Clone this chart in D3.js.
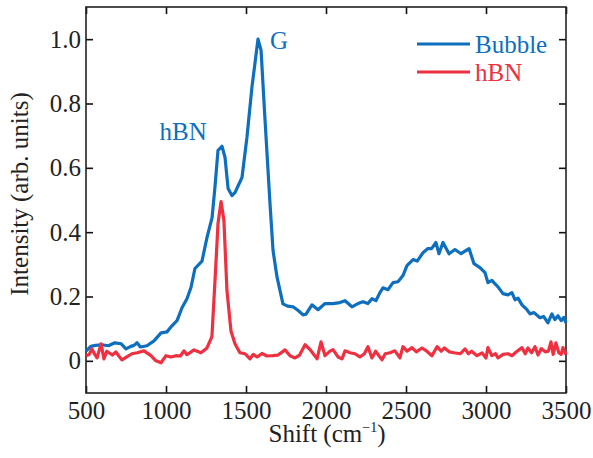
<!DOCTYPE html>
<html>
<head>
<meta charset="utf-8">
<script src="https://cdn.jsdelivr.net/npm/d3@7"></script>
<style>
  body { margin: 0; background: #fff; }
  svg, svg text { font-family: "Liberation Serif", "Times New Roman", "DejaVu Serif", serif; }
</style>
</head>
<body>
<div class="chart"></div>
<script>
// Raman spectra
const bubbleShift = [500,530,560,600,640,680,720,750,780,800,819,840,881,925,969,1006,1037,1069,1100,1131,1156,1181,1225,1256,1288,1306,1325,1350,1369,1388,1412,1431,1475,1506,1537,1575,1594,1619,1650,1669,1694,1731,1760,1794,1830,1856,1875,1912,1950,1994,2044,2087,2119,2162,2200,2231,2262,2287,2312,2337,2356,2387,2419,2450,2481,2506,2544,2570,2606,2637,2660,2687,2706,2731,2769,2806,2844,2894,2925,2962,2994,3012,3037,3055,3075,3106,3137,3162,3181,3200,3225,3256,3275,3300,3337,3360,3387,3412,3430,3450,3470,3487,3500];
const bubbleIntensity = [0.030,0.045,0.048,0.050,0.047,0.056,0.053,0.037,0.045,0.048,0.056,0.043,0.047,0.062,0.087,0.090,0.109,0.125,0.165,0.193,0.228,0.287,0.310,0.383,0.445,0.540,0.654,0.667,0.632,0.536,0.514,0.523,0.570,0.695,0.850,1.000,0.966,0.748,0.489,0.343,0.260,0.177,0.170,0.168,0.155,0.143,0.145,0.174,0.159,0.178,0.178,0.181,0.187,0.168,0.178,0.184,0.178,0.193,0.187,0.212,0.227,0.221,0.243,0.246,0.265,0.296,0.315,0.310,0.336,0.349,0.349,0.368,0.333,0.368,0.333,0.346,0.333,0.349,0.302,0.290,0.274,0.243,0.250,0.240,0.230,0.209,0.205,0.212,0.190,0.195,0.174,0.159,0.146,0.150,0.134,0.138,0.118,0.146,0.128,0.140,0.125,0.135,0.118];

const hbnShift = [500,520,537,555,569,594,612,630,644,665,687,705,725,755,787,820,862,906,937,969,1000,1031,1062,1090,1112,1131,1175,1219,1256,1287,1312,1325,1344,1362,1381,1406,1431,1462,1494,1525,1545,1570,1600,1630,1669,1700,1744,1775,1806,1835,1869,1900,1944,1969,1994,2025,2044,2075,2100,2119,2150,2181,2212,2240,2262,2287,2310,2350,2370,2400,2431,2462,2481,2506,2537,2565,2600,2630,2662,2694,2720,2740,2770,2800,2840,2869,2890,2910,2944,2975,3000,3012,3037,3060,3075,3106,3137,3162,3190,3225,3245,3262,3285,3306,3325,3345,3370,3390,3406,3420,3437,3455,3470,3481,3500];
const hbnIntensity = [0.016,0.020,0.037,0.020,0.009,0.053,0.006,0.030,0.025,0.018,0.028,0.015,0.003,0.012,0.022,0.025,0.031,0.016,0.000,-0.006,0.016,0.012,0.016,0.015,0.031,0.019,0.034,0.025,0.040,0.075,0.302,0.427,0.495,0.436,0.218,0.093,0.053,0.025,0.022,0.006,0.020,0.012,0.023,0.015,0.016,0.018,0.034,0.016,0.009,0.018,0.050,0.035,0.006,0.059,0.016,0.030,0.035,0.012,0.006,0.031,0.025,0.022,0.012,0.022,0.044,0.009,0.030,0.003,0.022,0.025,0.031,0.009,0.044,0.030,0.041,0.028,0.040,0.030,0.016,0.044,0.030,0.040,0.028,0.025,0.022,0.037,0.022,0.030,0.016,0.025,0.009,0.041,0.016,0.022,0.009,0.020,0.022,0.016,0.028,0.041,0.022,0.040,0.025,0.044,0.018,0.038,0.028,0.030,0.059,0.020,0.056,0.025,0.020,0.041,0.019];

const xTicks = [500,1000,1500,2000,2500,3000,3500];
const yTicks = [0,0.2,0.4,0.6,0.8,1.0];
const seriesNames = ['Bubble','hBN'];
const seriesColors = ['#0d6fbe','#ee3040'];

const serif = '"Liberation Serif", "Times New Roman", "DejaVu Serif", serif';

const margin = {top: 7, right: 27, bottom: 65, left: 86};
const width = 593 - margin.left - margin.right;
const height = 458 - margin.top - margin.bottom;

const xScale = d3.scaleLinear().domain([500,3500]).range([0,width]);
const yScale = d3.scaleLinear().domain([-0.1,1.1]).range([height,0]);

const svg = d3.select('.chart').append('svg')
    .attr('width', 593)
    .attr('height', 458)
    .attr('font-family', serif)
  .append('g')
    .attr('transform', 'translate(' + margin.left + ',' + margin.top + ')');

const yFormat = function(d){ return d === 0 ? '0' : d3.format('.1f')(d); };

// axes with inward ticks, mirrored on top and right
svg.append('g')
    .attr('class','x axis')
    .attr('transform','translate(0,' + height + ')')
    .call(d3.axisBottom(xScale).tickValues(xTicks).tickSizeInner(-7).tickSizeOuter(0).tickPadding(8).tickFormat(d3.format('d')));
svg.append('g')
    .attr('class','x2 axis')
    .call(d3.axisTop(xScale).tickValues(xTicks).tickSizeInner(-7).tickSizeOuter(0).tickFormat(''));
svg.append('g')
    .attr('class','y axis')
    .call(d3.axisLeft(yScale).tickValues(yTicks).tickSizeInner(-7).tickSizeOuter(0).tickPadding(5).tickFormat(yFormat));
svg.append('g')
    .attr('class','y2 axis')
    .attr('transform','translate(' + width + ',0)')
    .call(d3.axisRight(yScale).tickValues(yTicks).tickSizeInner(-7).tickSizeOuter(0).tickFormat(''));

svg.selectAll('.axis').attr('font-family', serif).attr('font-size', 25);
svg.selectAll('.axis path').remove();
svg.selectAll('.axis line').attr('stroke','#111').attr('stroke-width',1.6);
svg.selectAll('.axis text').attr('fill','#222');

svg.append('rect')
    .attr('width', width)
    .attr('height', height)
    .attr('fill','none')
    .attr('stroke','#222')
    .attr('stroke-width',1.6);

// curves
const line = d3.line()
    .x(function(d){ return xScale(d[0]); })
    .y(function(d){ return yScale(d[1]); });

const series = [
    d3.zip(bubbleShift, bubbleIntensity),
    d3.zip(hbnShift, hbnIntensity)
];

svg.selectAll('.curve')
    .data(series).enter()
  .append('path')
    .attr('class','curve')
    .attr('d', line)
    .attr('fill','none')
    .attr('stroke', function(d,i){ return seriesColors[i]; })
    .attr('stroke-width',3.2)
    .attr('stroke-linejoin','round');

// peak labels
svg.append('text')
    .attr('x', xScale(960)).attr('y', yScale(0.685))
    .attr('fill', seriesColors[0])
    .attr('font-size', 25)
    .text('hBN');
svg.append('text')
    .attr('x', xScale(1650)).attr('y', yScale(0.968))
    .attr('fill', seriesColors[0])
    .attr('font-size', 25)
    .text('G');

// legend
const legend = svg.selectAll('.legend')
    .data(seriesNames).enter()
  .append('g')
    .attr('class','legend')
    .attr('transform', function(d,i){ return 'translate(' + (width - 149) + ',' + (37 + i * 28) + ')'; });
legend.append('line')
    .attr('x1',0).attr('x2',53)
    .attr('stroke', function(d,i){ return seriesColors[i]; })
    .attr('stroke-width',3.2);
legend.append('text')
    .attr('x',58).attr('y',9)
    .attr('fill', function(d,i){ return seriesColors[i]; })
    .attr('font-size', 25)
    .text(function(d){ return d; });

// axis titles
const xTitle = svg.append('text')
    .attr('x', width / 2 + 1)
    .attr('y', height + 49)
    .attr('text-anchor','middle')
    .attr('fill','#222')
    .attr('font-size', 25);
xTitle.append('tspan').text('Shift (cm');
xTitle.append('tspan').attr('dy',-10).attr('font-size', 14).text('\u22121');
xTitle.append('tspan').attr('dy',10).text(')');

svg.append('text')
    .attr('transform','translate(' + (-58) + ',' + (height / 2 - 6) + ')rotate(-90)')
    .attr('text-anchor','middle')
    .attr('fill','#222')
    .attr('font-size', 25)
    .text('Intensity (arb. units)');
</script>
</body>
</html>
